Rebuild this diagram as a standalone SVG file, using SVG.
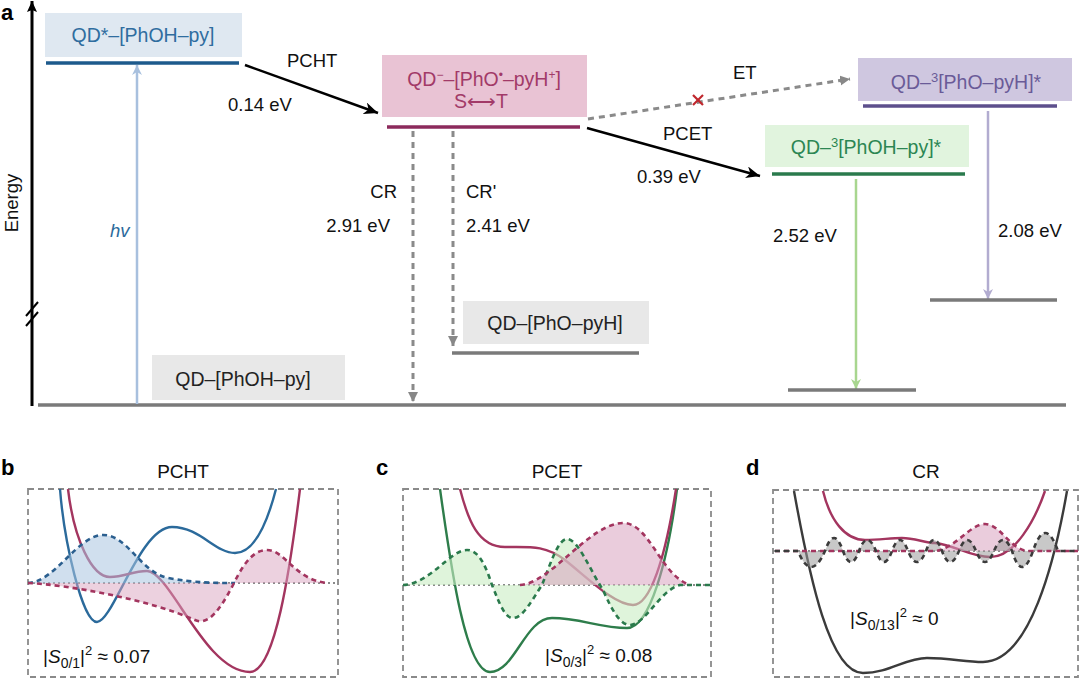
<svg xmlns="http://www.w3.org/2000/svg" width="1080" height="681" viewBox="0 0 1080 681">
<style>
text{font-family:"Liberation Sans",Arial,sans-serif;}
.lbl{font-size:18.5px;fill:#111;}
.box{font-size:19.5px;text-anchor:middle}
.panel{font-size:22px;font-weight:bold;fill:#000}
.ttl{font-size:19px;fill:#111;text-anchor:middle}
.frame{fill:none;stroke:#8a8a8a;stroke-width:1.8;stroke-dasharray:6 4}
.base{stroke:#8a8a8a;stroke-width:2;stroke-dasharray:2 3;fill:none}
.wf{fill:none;stroke-width:2.6;stroke-dasharray:5 4}
.pes{fill:none;stroke-width:2.4}
.lvl{stroke-width:3.5}
.gline{stroke:#7a7a7a;stroke-width:3.5}
.dash{stroke:#8a8a8a;stroke-width:3;stroke-dasharray:6 5;fill:none}
.ov{font-size:19px;fill:#111}
</style>
<defs>
<marker id="ahBlack" markerUnits="userSpaceOnUse" markerWidth="16" markerHeight="12" refX="14" refY="6" orient="auto"><path d="M0,0 L14,6 L0,12 L4,6 z" fill="#000"/></marker>
<marker id="ahAxis" markerUnits="userSpaceOnUse" markerWidth="12" markerHeight="12" refX="11" refY="5" orient="auto"><path d="M0,0 L11,5 L0,10 L2,5 z" fill="#000"/></marker>
<marker id="ahGray" markerUnits="userSpaceOnUse" markerWidth="12" markerHeight="12" refX="10" refY="5" orient="auto"><path d="M0,0 L10,5 L0,10 z" fill="#888"/></marker>
<marker id="ahBlue" markerUnits="userSpaceOnUse" markerWidth="12" markerHeight="12" refX="10" refY="5" orient="auto"><path d="M0,0 L10,5 L0,10 L3,5 z" fill="#a8c0de"/></marker>
<marker id="ahGreen" markerUnits="userSpaceOnUse" markerWidth="12" markerHeight="12" refX="10" refY="5" orient="auto"><path d="M0,0 L10,5 L0,10 L3,5 z" fill="#a8d68f"/></marker>
<marker id="ahPurple" markerUnits="userSpaceOnUse" markerWidth="12" markerHeight="12" refX="10" refY="5" orient="auto"><path d="M0,0 L10,5 L0,10 L3,5 z" fill="#b2acd0"/></marker>
</defs>
<rect width="1080" height="681" fill="#fff"/>

<!-- Panel a axes -->
<g id="axes">
<text class="panel" x="1" y="20">a</text>
<line x1="32" y1="406" x2="32" y2="1" stroke="#000" stroke-width="3" marker-end="url(#ahAxis)"/>
<line x1="26" y1="316" x2="38" y2="302" stroke="#000" stroke-width="2"/>
<line x1="26" y1="326" x2="38" y2="312" stroke="#000" stroke-width="2"/>
<text class="lbl" transform="translate(18,203) rotate(-90)" text-anchor="middle">Energy</text>
<line x1="38" y1="405" x2="1066" y2="405" class="gline"/>
</g>

<g id="connectors">
<line x1="137" y1="404" x2="137" y2="65" stroke="#a8c0de" stroke-width="2.5" marker-end="url(#ahBlue)"/>
<text x="110" y="237" font-size="18.5" font-style="italic" fill="#2c6a9c">hv</text>
<line x1="245" y1="65" x2="378" y2="113" stroke="#000" stroke-width="2.5" marker-end="url(#ahBlack)"/>
<text class="lbl" x="287" y="67">PCHT</text>
<text class="lbl" x="228" y="111">0.14 eV</text>
<line x1="413" y1="131" x2="413" y2="402" class="dash" marker-end="url(#ahGray)"/>
<line x1="453" y1="131" x2="453" y2="346" class="dash" marker-end="url(#ahGray)"/>
<text class="lbl" x="397" y="198" text-anchor="end">CR</text>
<text class="lbl" x="390" y="232" text-anchor="end">2.91 eV</text>
<text class="lbl" x="466" y="198">CR'</text>
<text class="lbl" x="466" y="232">2.41 eV</text>
<line x1="588" y1="119" x2="850" y2="79" class="dash" marker-end="url(#ahGray)"/>
<g stroke="#c0272d" stroke-width="2.2"><line x1="693" y1="95" x2="703" y2="105"/><line x1="703" y1="95" x2="693" y2="105"/></g>
<text class="lbl" x="733" y="79">ET</text>
<line x1="587" y1="128" x2="760" y2="176" stroke="#000" stroke-width="2.5" marker-end="url(#ahBlack)"/>
<text class="lbl" x="663" y="140">PCET</text>
<text class="lbl" x="637" y="183">0.39 eV</text>
<line x1="856" y1="179" x2="856" y2="389" stroke="#a8d68f" stroke-width="2.5" marker-end="url(#ahGreen)"/>
<text class="lbl" x="773" y="242">2.52 eV</text>
<line x1="988" y1="111" x2="988" y2="299" stroke="#b2acd0" stroke-width="2.5" marker-end="url(#ahPurple)"/>
<text class="lbl" x="998" y="237">2.08 eV</text>
</g>

<g id="node-qdstar">
<rect x="45" y="13" width="197" height="44" fill="#dfe8f1"/>
<text class="box" x="143" y="42" fill="#2f6d9f">QD*–[PhOH–py]</text>
<line x1="46" y1="63" x2="239" y2="63" stroke="#1d5a8c" class="lvl"/>
</g>

<g id="node-ct">
<rect x="382" y="55" width="205" height="62" fill="#e9c3d4"/>
<text class="box" x="484" y="86" fill="#a23a68">QD<tspan dy="-7" font-size="12">−</tspan><tspan dy="7">–[PhO</tspan><tspan dy="-7" font-size="12">•</tspan><tspan dy="7">–pyH</tspan><tspan dy="-7" font-size="12">+</tspan><tspan dy="7">]</tspan></text>
<text class="box" x="481" y="108" fill="#a23a68">S⟷T</text>
<line x1="387" y1="127" x2="580" y2="127" stroke="#8c2a5c" class="lvl"/>
</g>

<g id="node-phopyh">
<rect x="463" y="301" width="186" height="43" fill="#e8e8e8"/>
<text class="box" x="555" y="330" fill="#222">QD–[PhO–pyH]</text>
<line x1="452" y1="353" x2="639" y2="353" class="gline"/>
</g>

<g id="node-ground">
<rect x="152" y="355" width="193" height="45" fill="#e8e8e8"/>
<text class="box" x="243" y="386" fill="#222">QD–[PhOH–py]</text>
</g>

<g id="node-tphopyh">
<rect x="858" y="58" width="214" height="43" fill="#cfc7e0"/>
<text class="box" x="966" y="89" fill="#6a5b98">QD–<tspan dy="-7" font-size="13">3</tspan><tspan dy="7">[PhO–pyH]*</tspan></text>
<line x1="863" y1="106" x2="1057" y2="106" stroke="#5d4f8c" class="lvl"/>
<line x1="930" y1="300" x2="1057" y2="300" class="gline"/>
</g>

<g id="node-tphohpy">
<rect x="765" y="125" width="204" height="42" fill="#e1f4de"/>
<text class="box" x="866" y="154" fill="#2c8653">QD–<tspan dy="-7" font-size="13">3</tspan><tspan dy="7">[PhOH–py]*</tspan></text>
<line x1="772" y1="174" x2="965" y2="174" stroke="#2a7a4c" class="lvl"/>
<line x1="788" y1="390" x2="916" y2="390" class="gline"/>
</g>

<!-- Panel b -->
<g id="panel-b">
<text class="panel" x="1" y="475">b</text>
<text class="ttl" x="183" y="478">PCHT</text>
<rect x="28" y="489" width="310" height="188" class="frame"/>
<line x1="28" y1="583" x2="338" y2="583" class="base"/>
<path class="pes" stroke="#2b6a9b" d="M60,489 C64,540 82,622 97,622 C113,622 140,527 172,527 C200,527 215,553 235,553 C255,553 268,520 276,489"/>
<path class="pes" stroke="#a3355f" d="M68,489 C74,540 92,577 110,577 C125,577 132,571 147,571 C170,571 205,672 250,672 C275,672 290,570 300,489"/>
<path fill="#a9c4e0" fill-opacity="0.55" d="M28,583 C55,582 78,535 103,535 C128,535 140,572 168,578 C195,583 215,583 235,583 Z"/>
<path fill="#d9a3bf" fill-opacity="0.5" d="M28,583 C70,585 150,600 195,620 C208,626 220,610 233,585 C245,560 255,550 267,550 C285,550 295,580 327,583 Z"/>
<path class="wf" stroke="#2b5f8f" d="M28,583 C55,582 78,535 103,535 C128,535 140,572 168,578 C195,583 215,583 235,583"/>
<path class="wf" stroke="#a3355f" d="M28,583 C70,585 150,600 195,620 C208,626 220,610 233,585 C245,560 255,550 267,550 C285,550 295,580 327,583"/>
<text class="ov" x="43" y="663">|<tspan font-style="italic">S</tspan><tspan dy="5" font-size="14">0/1</tspan><tspan dy="-5">|</tspan><tspan dy="-8" font-size="13">2</tspan><tspan dy="8"> ≈ 0.07</tspan></text>
</g>

<!-- Panel c -->
<g id="panel-c">
<text class="panel" x="376" y="475">c</text>
<text class="ttl" x="557" y="478">PCET</text>
<rect x="403" y="489" width="308" height="188" class="frame"/>
<line x1="403" y1="585" x2="711" y2="585" class="base"/>
<path class="pes" stroke="#2e7d4b" d="M440,489 C450,560 465,672 490,672 C515,672 525,618 552,618 C580,618 600,628 627,628 C650,628 668,560 677,489"/>
<path class="pes" stroke="#a3355f" d="M460,489 C468,520 478,547 505,547 C530,547 545,545 565,560 C590,580 615,605 633,605 C650,605 665,560 676,489"/>
<path fill="#c9ecc3" fill-opacity="0.6" d="M403,585 C430,584 450,550 467,550 C480,550 487,570 492,585 C500,605 505,618 513,618 C523,618 532,600 542,585 C550,565 558,539 567,539 C578,539 590,570 603,590 C612,610 620,625 630,625 C645,625 660,590 680,585 L711,585 Z"/>
<path fill="#d9a3bf" fill-opacity="0.55" d="M520,585 C550,584 590,523 623,523 C650,523 660,575 690,585 Z"/>
<path class="wf" stroke="#2a7a4c" d="M403,585 C430,584 450,550 467,550 C480,550 487,570 492,585 C500,605 505,618 513,618 C523,618 532,600 542,585 C550,565 558,539 567,539 C578,539 590,570 603,590 C612,610 620,625 630,625 C645,625 660,590 680,585 L711,585"/>
<path class="wf" stroke="#a3355f" d="M520,585 C550,584 590,523 623,523 C650,523 660,575 690,585"/>
<text class="ov" x="545" y="662">|<tspan font-style="italic">S</tspan><tspan dy="5" font-size="14">0/3</tspan><tspan dy="-5">|</tspan><tspan dy="-8" font-size="13">2</tspan><tspan dy="8"> ≈ 0.08</tspan></text>
</g>

<!-- Panel d -->
<g id="panel-d">
<text class="panel" x="746" y="475">d</text>
<text class="ttl" x="926" y="478">CR</text>
<rect x="773" y="490" width="305" height="187" class="frame"/>
<line x1="773" y1="551" x2="1078" y2="551" class="base"/>
<path class="pes" stroke="#3b3b3b" d="M794,491 C810,580 830,673 863,673 C890,673 905,658 927,658 C950,658 965,662 983,662 C1030,662 1055,560 1067,491"/>
<path class="pes" stroke="#a3355f" d="M823,491 C830,520 845,540 865,540 C880,540 890,538 902,538 C915,538 925,543 935,543 C955,545 970,557 990,557 C1015,557 1035,520 1045,491"/>
<path fill="#d9a3bf" fill-opacity="0.55" d="M935,551 C955,549 970,524 985,524 C1000,524 1010,549 1027,551 Z"/>
<path fill="#9a9a9a" fill-opacity="0.55" d="M775,551 L798,551 Q811,583 825,551 Q834,525 843,551 Q851,573 859,551 Q867,529 876,551 Q884,573 892,551 Q900,529 908,551 Q917,573 926,551 Q934,529 942,551 Q950,573 959,551 Q967,529 976,551 Q985,573 994,551 Q1003,529 1012,551 Q1022,583 1033,551 Q1045,515 1058,551 L1075,551 Z"/>
<path class="wf" stroke="#a3355f" d="M775,551 L935,551 C955,549 970,524 985,524 C1000,524 1010,549 1027,551 L1078,551"/>
<path class="wf" stroke="#3b3b3b" d="M775,551 L798,551 Q811,583 825,551 Q834,525 843,551 Q851,573 859,551 Q867,529 876,551 Q884,573 892,551 Q900,529 908,551 Q917,573 926,551 Q934,529 942,551 Q950,573 959,551 Q967,529 976,551 Q985,573 994,551 Q1003,529 1012,551 Q1022,583 1033,551 Q1045,515 1058,551 L1075,551"/>
<text class="ov" x="850" y="625">|<tspan font-style="italic">S</tspan><tspan dy="5" font-size="14">0/13</tspan><tspan dy="-5">|</tspan><tspan dy="-8" font-size="13">2</tspan><tspan dy="8"> ≈ 0</tspan></text>
</g>
</svg>
